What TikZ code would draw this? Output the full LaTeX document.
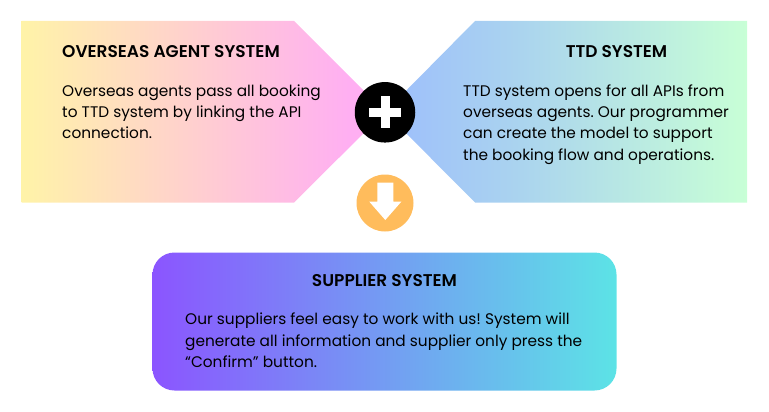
\documentclass[tikz,border=0pt]{standalone}
\usepackage{fontspec}
\setmainfont{Poppins}
\newfontfamily\headfont{Poppins SemiBold}
\usetikzlibrary{positioning}
\definecolor{agentl}{HTML}{FFF3A8}
\definecolor{agentr}{HTML}{FFAFF2}
\definecolor{ttdl}{HTML}{9DBEFC}
\definecolor{ttdm}{HTML}{AAD3EF}
\definecolor{ttdr}{HTML}{C8FFD6}
\definecolor{supl}{HTML}{8B55FF}
\definecolor{supr}{HTML}{5CE3E6}
\definecolor{downc}{HTML}{FFBC5C}
\pgfdeclarehorizontalshading{agentshade}{100bp}{color(0bp)=(agentl); color(25bp)=(agentl); color(70bp)=(agentr); color(100bp)=(agentr)}
\pgfdeclarehorizontalshading{ttdshade}{100bp}{color(0bp)=(ttdl); color(25bp)=(ttdl); color(43bp)=(ttdm); color(75bp)=(ttdr); color(100bp)=(ttdr)}
\tikzset{
  headtxt/.style={font=\headfont\fontsize{17}{20}\selectfont,text=black,inner sep=0pt,anchor=base},
  bodytxt/.style={font=\frenchspacing\fontsize{15.35}{21.3}\selectfont,text=black,inner sep=0pt,align=left,anchor=north west},
}
\begin{document}
\begin{tikzpicture}[x=1pt,y=-1pt]
\useasboundingbox (0,0) rectangle (769,412);
% arrow panels
\path[shading=agentshade] (21.5,21) -- (294,21) -- (385,112) -- (294,202.5) -- (21.5,202.5) -- cycle;
\path[shading=ttdshade] (385,112) -- (475,21) -- (747,21) -- (747,202.5) -- (475,202.5) -- cycle;
\path[left color=supl,right color=supr,rounded corners=22pt] (152.5,252.5) rectangle (616.5,390.5);
% plus
\node[fill=black,circle,inner sep=0pt,minimum size=60.5pt] (plus) at (385,112.3) {};
\node[fill=white,inner sep=0pt,minimum width=32pt,minimum height=9.5pt] (plush) at (plus) {};
\node[fill=white,inner sep=0pt,minimum width=9pt,minimum height=32pt] (plusv) at (plus) {};
% down
\node[fill=downc,circle,inner sep=0pt,minimum size=57pt] (down) at (385,203) {};
\fill[white] (377.3,182.7) -- (393.3,182.7) -- (393.3,201.7) -- (401.3,201.7) -- (385.3,220) -- (369.3,201.7) -- (377.3,201.7) -- cycle;
% texts
\node[headtxt,anchor=base west] (agenthead) at (62,57.5) {OVERSEAS AGENT SYSTEM};
\node[bodytxt] (agentbody) at (62,84.3) {Overseas agents pass all booking\\to TTD system by linking the API\\connection.};
\node[headtxt] (ttdhead) at (616.5,57.5) {TTD SYSTEM};
\node[bodytxt] (ttdbody) at (463,84.3) {TTD system opens for all APIs from\\overseas agents. Our programmer\\can create the model to support\\the booking flow and operations.};
\node[headtxt] (suphead) at (384.5,286) {SUPPLIER SYSTEM};
\node[bodytxt] (supbody) at (185,313) {Our suppliers feel easy to work with us! System will\\generate all information and supplier only press the\\“Confirm” button.};
\end{tikzpicture}
\end{document}
